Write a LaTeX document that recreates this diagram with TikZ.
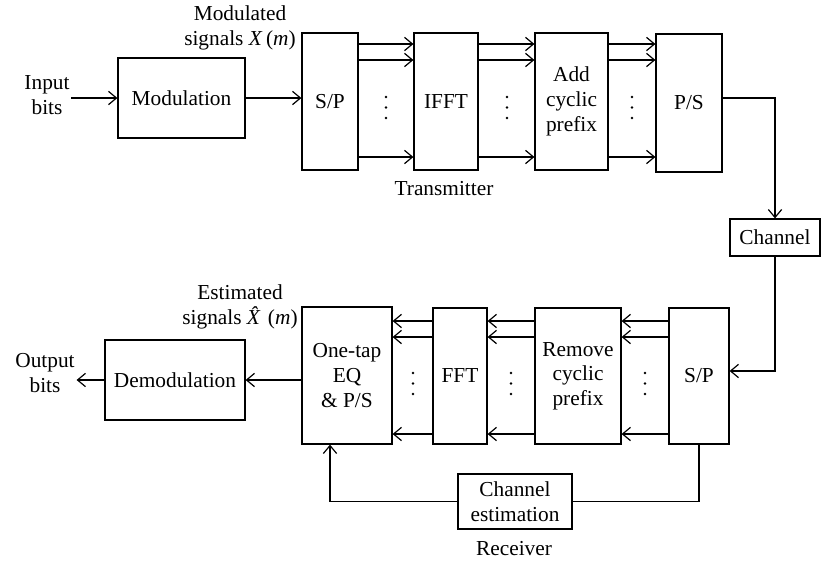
\documentclass[tikz,border=0pt]{standalone}
\usepackage{fontspec}
\setmainfont{Liberation Serif}
\usetikzlibrary{arrows.meta}

\tikzset{every picture/.style={line width=0.9pt}}
\tikzset{
  blk/.style={draw, inner sep=1pt, align=center},
  lbl/.style={inner sep=1pt, align=center},
  sig/.style={-{Straight Barb[length=6pt,width=10pt]}},
}

\begin{document}
\begin{tikzpicture}[x=0.75pt,y=0.75pt,yscale=-1,xscale=1,font=\fontsize{16}{18.5}\selectfont]
\path[use as bounding box] (0,0) rectangle (821,561);

% rows of the parallel lines
\coordinate (mid) at (0,98);
\coordinate (t1) at (0,44);
\coordinate (t2) at (0,60);
\coordinate (t3) at (0,157);
\coordinate (b1) at (0,321);
\coordinate (b2) at (0,337);
\coordinate (b3) at (0,434);
\coordinate (rxin) at (0,371);
\coordinate (eqin) at (330,0);

%Transmitter blocks
\node[blk, minimum width=95.25pt, minimum height=60pt] (mod) at (181.5,98) {Modulation};
\node[blk, minimum width=42pt, minimum height=102.75pt] (sptx) at (330,101.5) {S/P};
\node[blk, minimum width=48pt, minimum height=102.75pt] (ifft) at (446,101.5) {IFFT};
\node[blk, minimum width=54.75pt, minimum height=102.75pt] (acp) at (571.5,101.5) {Add\\cyclic\\prefix};
\node[blk, minimum width=49.5pt, minimum height=103.5pt] (pstx) at (689,103) {P/S};
\node[blk, minimum width=67.5pt, minimum height=27.75pt] (chan) at (775,237.5) {Channel};

%Receiver blocks
\node[blk, minimum width=45pt, minimum height=102pt] (sprx) at (699,376) {S/P};
\node[blk, minimum width=64.5pt, minimum height=102pt] (rcp) at (578,376) {Remove\\cyclic\\prefix};
\node[blk, minimum width=40.5pt, minimum height=102pt] (fft) at (460,376) {FFT};
\node[blk, minimum width=67.5pt, minimum height=102.75pt] (eq) at (347,375.5) {One-tap\\EQ\\\& P/S};
\node[blk, minimum width=105pt, minimum height=60pt] (demod) at (175,380) {Demodulation};
\node[blk, minimum width=85.5pt, minimum height=41.25pt] (cest) at (515,501.5) {Channel\\estimation};

% Text Node
\node[lbl] (inbits) at (47,95) {Input\\bits};
% Text Node
\node[lbl] (outbits) at (45,373) {Output\\bits};
% Text Node
\node[lbl] (xm) at (240,28) {Modulated\\signals \textit{X}\,(\textit{m})};
% Text Node
\node[lbl] (xhm) at (240,307) {Estimated\\signals \textit{\^X}(\textit{m})};
% Text Node
\node[lbl] (txlbl) at (444,189) {Transmitter};
% Text Node
\node[lbl] (rxlbl) at (514,549) {Receiver};

%Transmitter lines
\draw[sig] (inbits.east |- mid) -- (mod.west |- mid);
\draw[sig] (mod.east |- mid) -- (sptx.west |- mid);
\draw[sig] (sptx.east |- t1) -- (ifft.west |- t1);
\draw[sig] (sptx.east |- t2) -- (ifft.west |- t2);
\draw[sig] (sptx.east |- t3) -- (ifft.west |- t3);
\draw[sig] (ifft.east |- t1) -- (acp.west |- t1);
\draw[sig] (ifft.east |- t2) -- (acp.west |- t2);
\draw[sig] (ifft.east |- t3) -- (acp.west |- t3);
\draw[sig] (acp.east |- t1) -- (pstx.west |- t1);
\draw[sig] (acp.east |- t2) -- (pstx.west |- t2);
\draw[sig] (acp.east |- t3) -- (pstx.west |- t3);
\draw[sig] (pstx.east |- mid) -| (chan.north);
\draw[sig] (chan.south) |- (sprx.east |- rxin);

%Receiver lines
\draw[sig] (sprx.west |- b1) -- (rcp.east |- b1);
\draw[sig] (sprx.west |- b2) -- (rcp.east |- b2);
\draw[sig] (sprx.west |- b3) -- (rcp.east |- b3);
\draw[sig] (rcp.west |- b1) -- (fft.east |- b1);
\draw[sig] (rcp.west |- b2) -- (fft.east |- b2);
\draw[sig] (rcp.west |- b3) -- (fft.east |- b3);
\draw[sig] (fft.west |- b1) -- (eq.east |- b1);
\draw[sig] (fft.west |- b2) -- (eq.east |- b2);
\draw[sig] (fft.west |- b3) -- (eq.east |- b3);
\draw[sig] (eq.west |- demod.east) -- (demod.east);
\draw[sig] (demod.west) -- (outbits.east |- demod.west);
\draw (sprx.south) |- (cest.east);
\draw[sig] (cest.west) -| (eqin |- eq.south);

%Dots
\fill (386,97) circle (1.3) (386,107.5) circle (1.3) (386,118) circle (1.3);
\fill (507,97) circle (1.3) (507,107.5) circle (1.3) (507,118) circle (1.3);
\fill (632,97) circle (1.3) (632,107.5) circle (1.3) (632,118) circle (1.3);
\fill (413,373) circle (1.3) (413,383.5) circle (1.3) (413,394) circle (1.3);
\fill (511,373) circle (1.3) (511,383.5) circle (1.3) (511,394) circle (1.3);
\fill (645,373) circle (1.3) (645,383.5) circle (1.3) (645,394) circle (1.3);

\end{tikzpicture}
\end{document}
